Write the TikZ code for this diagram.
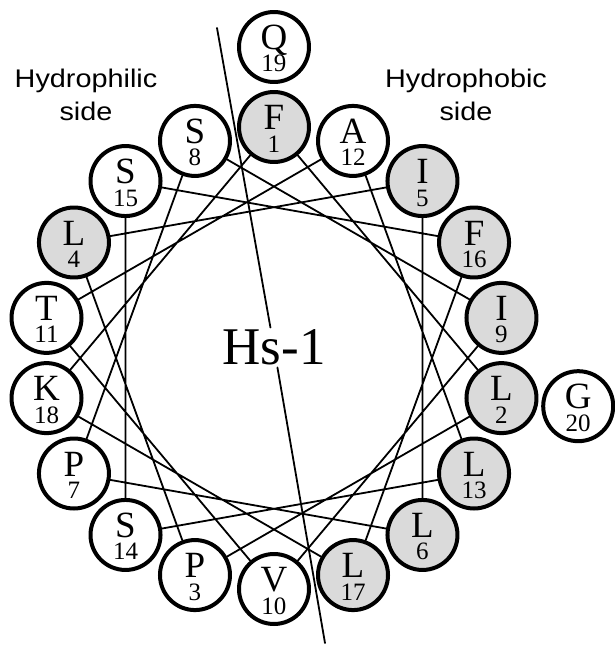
\documentclass[tikz,border=0pt]{standalone}
\usepackage{fontspec}
\setmainfont{Liberation Serif}
\newfontfamily\sidefont[FakeStretch=1.13]{Liberation Sans}
\usepackage{tikz}
\definecolor{hydro}{HTML}{DADADA}
\tikzset{
  every picture/.style={
    line join=round,
    line cap=round,
  },
  % one residue: letter on top, position number under it
  res/.style 2 args={circle, draw, line width=4pt, fill=white, minimum size=70pt,
    inner sep=0pt,
    label={[resletter, yshift=9.5pt]center:#1},
    label={[resnum, yshift=-16.5pt]center:#2}},
  resletter/.style={font=\fontsize{37}{37}\selectfont, inner sep=0pt,
    text height=24pt, text depth=0pt},
  resnum/.style={font=\fontsize{25}{25}\selectfont, inner sep=0pt,
    text height=17pt, text depth=0pt},
  hphob/.style={fill=hydro},
  turn/.style={line width=1.8pt},
  sidelabel/.style={font=\sidefont\fontsize{25.5}{33.3}\selectfont,
    align=center, anchor=north, inner sep=0pt},
}

\begin{document}
\begin{tikzpicture}[x=1pt, y=1pt]
    \useasboundingbox (-274,-288) rectangle (340,358);

    % Side labels
    \node[sidelabel] (philtxt) at (-188,289.6) {Hydrophilic\\side};
    \node[sidelabel] (phobtxt) at (192,289.6) {Hydrophobic\\side};

    % Wheel, 100 degrees per residue
    \node[res={F}{1}, hphob] (f1) at (90:231) {};
    \node[res={A}{12}] (a12) at (70:231) {};
    \node[res={I}{5}, hphob] (i5) at (50:231) {};
    \node[res={F}{16}, hphob] (f16) at (30:231) {};
    \node[res={I}{9}, hphob] (i9) at (10:231) {};
    \node[res={L}{2}, hphob] (l2) at (-10:231) {};
    \node[res={L}{13}, hphob] (l13) at (-30:231) {};
    \node[res={L}{6}, hphob] (l6) at (-50:231) {};
    \node[res={L}{17}, hphob] (l17) at (-70:231) {};
    \node[res={V}{10}] (v10) at (-90:231) {};
    \node[res={P}{3}] (p3) at (-110:231) {};
    \node[res={S}{14}] (s14) at (-130:231) {};
    \node[res={P}{7}] (p7) at (-150:231) {};
    \node[res={K}{18}] (k18) at (-170:231) {};
    \node[res={T}{11}] (t11) at (170:231) {};
    \node[res={L}{4}, hphob] (l4) at (150:231) {};
    \node[res={S}{15}] (s15) at (130:231) {};
    \node[res={S}{8}] (s8) at (110:231) {};

    % Second turn
    \node[res={Q}{19}] (q19) at (90:311) {};
    \node[res={G}{20}] (g20) at (-9:308) {};

    % Backbone
    \draw[turn] (f1) -- (l2) -- (p3) -- (l4) -- (i5) -- (l6) -- (p7) -- (s8)
      -- (i9) -- (v10) -- (t11) -- (a12) -- (l13) -- (s14) -- (s15) -- (f16)
      -- (l17) -- (k18) -- (f1);

    % Name and dividing line
    \node[font=\fontsize{53}{53}\selectfont, inner sep=2pt] (hs) at (0,10.5) {Hs-1};
    \coordinate (divtop) at (-57,330);
    \coordinate (divbot) at (51,-285);
    \draw[turn] (divtop) -- (hs) (hs) -- (divbot);
\end{tikzpicture}
\end{document}
